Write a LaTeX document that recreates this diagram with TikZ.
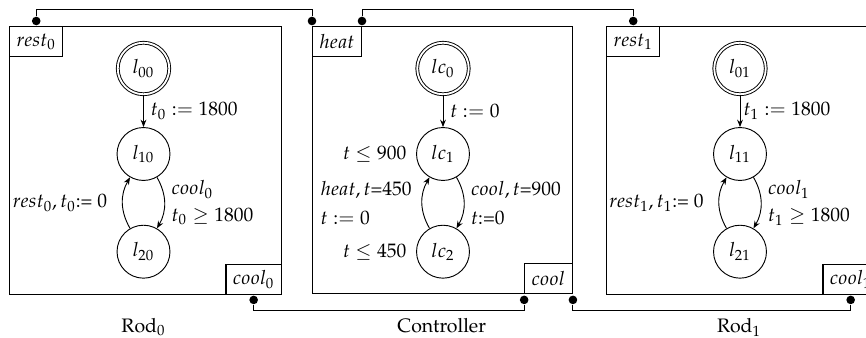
\documentclass[tikz,border=0pt]{standalone}
\usepackage[T1]{fontenc}
\usepackage{mathpazo}
\usetikzlibrary{arrows.meta,calc}
\begin{document}
\begin{tikzpicture}[x=0.4873pt,y=0.4873pt,
  every node/.style={font=\fontsize{9.5}{11.5}\selectfont},
  bigbox/.style={draw, line width=0.45pt, anchor=north west, inner sep=0pt},
  port/.style={draw, line width=0.6pt, inner xsep=3.4pt, inner ysep=0pt, minimum height=14.6pt},
  state/.style={draw, circle, minimum size=25.8pt, inner sep=0pt, line width=0.45pt},
  init/.style={state, double, double distance=0.9pt, minimum size=25.1pt},
  dot/.style={circle, fill, inner sep=0pt, minimum size=4.2pt},
  wire/.style={line width=0.45pt},
  tr/.style={-{Stealth[length=3.6pt,width=2.8pt]}, line width=0.45pt},
  caption/.style={anchor=base},
]
\clip (0,0) rectangle (866,-338);
\useasboundingbox (0,0) rectangle (866,-338);

% component boxes
\node[bigbox, minimum width=132.55pt, minimum height=130.6pt] (rod0) at (9,-26) {};
\node[bigbox, minimum width=126.7pt, minimum height=130.1pt] (ctrl) at (312,-26) {};
\node[bigbox, minimum width=132.55pt, minimum height=130.6pt] (rod1) at (606,-26) {};

% ports
\node[port, anchor=north west] (rest0) at (rod0.north west) {$rest_0$};
\node[port, anchor=south east] (cool0) at (rod0.south east) {$cool_0$};
\node[port, anchor=north west] (heat) at (ctrl.north west) {$heat$};
\node[port, anchor=south east] (cool) at (ctrl.south east) {$cool$};
\node[port, anchor=north west] (rest1) at (rod1.north west) {$rest_1$};
\node[port, anchor=south east] (cool1) at (rod1.south east) {$cool_1$};

% port dots
\node[dot] (dr0) at ($(rest0.north)+(0,5)$) {};
\node[dot] (dh0) at ($(heat.north west)+(0,5)$) {};
\node[dot] (dh1) at ($(heat.north east)+(0,5)$) {};
\node[dot] (dr1) at ($(rest1.north)+(0,5)$) {};
\node[dot] (dc0) at ($(cool0.south)+(0,-5)$) {};
\node[dot] (dc) at ($(cool.south west)+(0,-6)$) {};
\node[dot] (dcc) at ($(cool.south east)+(0,-6)$) {};
\node[dot] (dc1) at ($(cool1.south)+(0,-5)$) {};

% wires
\draw[wire] (dr0) -- ++(0,12) -| (dh0);
\draw[wire] (dh1) -- ++(0,12) -| (dr1);
\draw[wire] (dc0) -- ++(0,-11) -| (dc);
\draw[wire] (dcc) -- ++(0,-11) -| (dc1);

% Rod0
\node[init] (l00) at (143.5,-68.5) {$l_{00}$};
\node[state] (l10) at (143.5,-154) {$l_{10}$};
\node[state] (l20) at (143.5,-251.7) {$l_{20}$};
\draw[tr] (l00) -- node[right] {$t_0 := 1800$} (l10);
\draw[tr] (l10) to[bend left=30] node[right, align=left] {$cool_0$\\[1.5pt]$t_0 \geq 1800$} (l20);
\draw[tr] (l20) to[bend left=30] node[left, xshift=-4pt] {$rest_0, t_0$:= $0$} (l10);

% Controller
\node[init] (lc0) at (443,-68.5) {$lc_0$};
\node[state, label={[label distance=1.2pt]left:$t \leq 900$}] (lc1) at (443,-154) {$lc_1$};
\node[state, label={[label distance=1.2pt]left:$t \leq 450$}] (lc2) at (443,-251.7) {$lc_2$};
\draw[tr] (lc0) -- node[right] {$t := 0$} (lc1);
\draw[tr] (lc1) to[bend left=30] node[right, align=left] {$cool, t$=900\\[2.5pt]$t$:=0} (lc2);
\draw[tr] (lc2) to[bend left=30] node[left, align=left, xshift=-1.5pt] {$heat, t$=450\\[2.5pt]$t := 0$} (lc1);

% Rod1
\node[init] (l01) at (740,-68.5) {$l_{01}$};
\node[state] (l11) at (740,-154) {$l_{11}$};
\node[state] (l21) at (740,-251.7) {$l_{21}$};
\draw[tr] (l01) -- node[right, inner sep=1.5pt] {$t_1 := 1800$} (l11);
\draw[tr] (l11) to[bend left=30] node[right, align=left] {$cool_1$\\[1.5pt]$t_1 \geq 1800$} (l21);
\draw[tr] (l21) to[bend left=30] node[left, xshift=-4pt] {$rest_1, t_1$:= $0$} (l11);

% captions
\node[caption] (cap0) at (143.5,-332.5) {Rod$_0$};
\node[caption] (capc) at (441.7,-332.5) {Controller};
\node[caption] (cap1) at (739,-332.5) {Rod$_1$};
\end{tikzpicture}
\end{document}
